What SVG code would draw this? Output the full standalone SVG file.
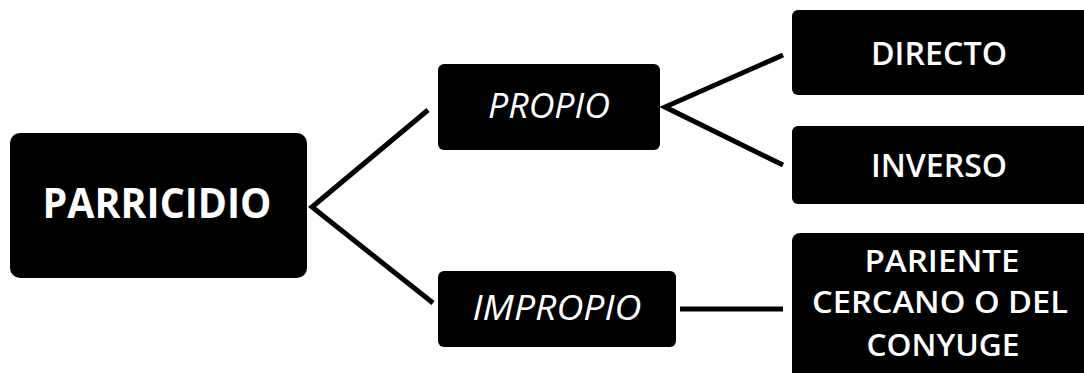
<svg xmlns="http://www.w3.org/2000/svg" width="1084" height="373" viewBox="0 0 1084 373">
  <style>
    .box { fill: #000; }
    .lbl { fill: #fff; font-family: "Open Sans", "Liberation Sans", sans-serif; text-anchor: middle; font-weight: 600; }
    .b { font-weight: 700; }
    .it { font-style: italic; font-weight: 500; }
    .link { stroke: #000; stroke-width: 5; fill: none; stroke-linejoin: miter; }
  </style>

  <!-- connectors -->
  <g id="connectors">
    <polyline class="link" points="428,110 312,207 433,303"/>
    <polyline class="link" points="783,55 665,107 783,165"/>
    <line class="link" x1="680" y1="309" x2="783" y2="309"/>
  </g>

  <g id="parricidio">
    <rect class="box" x="10" y="133" width="297" height="145" rx="10"/>
    <text class="lbl b" x="157" y="218" font-size="41" textLength="229" lengthAdjust="spacingAndGlyphs">PARRICIDIO</text>
  </g>

  <g id="propio">
    <rect class="box" x="438" y="64" width="222" height="86" rx="6"/>
    <text class="lbl it" x="549" y="118" font-size="35" textLength="122" lengthAdjust="spacingAndGlyphs">PROPIO</text>
  </g>

  <g id="impropio">
    <rect class="box" x="438" y="271" width="238" height="76" rx="6"/>
    <text class="lbl it" x="557" y="320" font-size="35" textLength="169" lengthAdjust="spacingAndGlyphs">IMPROPIO</text>
  </g>

  <g id="directo">
    <rect class="box" x="792" y="10" width="300" height="85" rx="6"/>
    <text class="lbl" x="939" y="65" font-size="32" textLength="136" lengthAdjust="spacingAndGlyphs">DIRECTO</text>
  </g>

  <g id="inverso">
    <rect class="box" x="792" y="126" width="300" height="78" rx="6"/>
    <text class="lbl" x="939" y="177" font-size="32" textLength="136" lengthAdjust="spacingAndGlyphs">INVERSO</text>
  </g>

  <g id="pariente">
    <rect class="box" x="792" y="233" width="300" height="150" rx="8"/>
    <text class="lbl" x="942" y="272" font-size="30" textLength="155" lengthAdjust="spacingAndGlyphs">PARIENTE</text>
    <text class="lbl" x="940" y="313" font-size="30" textLength="256" lengthAdjust="spacingAndGlyphs">CERCANO O DEL</text>
    <text class="lbl" x="943" y="356" font-size="30" textLength="153" lengthAdjust="spacingAndGlyphs">CONYUGE</text>
  </g>
</svg>
